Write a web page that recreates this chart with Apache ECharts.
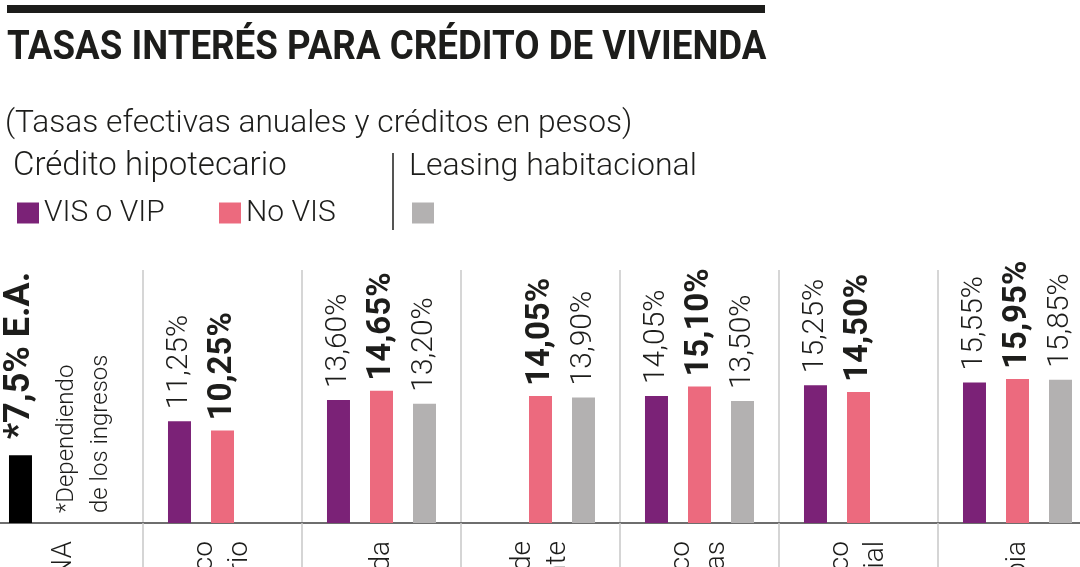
<!DOCTYPE html>
<html>
<head>
<meta charset="utf-8">
<script src="https://cdn.jsdelivr.net/npm/echarts@6/dist/echarts.min.js"></script>
<style>
  html, body { margin: 0; padding: 0; background: #ffffff; }
  #chart { width: 1080px; height: 567px; }
</style>
</head>
<body>
<div id="chart"></div>
<script>
// ---- data ----
const categories = ['FNA', 'Banco\nAgrario', 'Davivienda', 'Banco de\nOccidente', 'Banco\nAV Villas', 'Banco\nCaja Social', 'Bancolombia'];
const visVip   = [7.5, 11.25, 13.60, null, 14.05, 15.25, 15.55];
const noVis    = [null, 10.25, 14.65, 14.05, 15.10, 14.50, 15.95];
const leasing  = [null, null, 13.20, 13.90, 13.50, null, 15.85];
const seriesNames = ['VIS o VIP', 'No VIS', 'Leasing habitacional'];
const fnaNote = '*7,5% E.A.';
const fnaFootnote = '*Dependiendo\nde los ingresos';
const titleText = 'TASAS INTERÉS PARA CRÉDITO DE VIVIENDA';
const subtitleText = '(Tasas efectivas anuales y créditos en pesos)';
const groupHipotecario = 'Crédito hipotecario';
const groupLeasing = 'Leasing habitacional';

// ---- style ----
const INK = '#1d1d1b';
const PURPLE = '#7b2277';
const PINK = '#ec6a7e';
const GRAY = '#b3b1b1';
const FONT = 'Roboto, "Noto Sans", sans-serif';

const fmt = p => Number(p.value).toFixed(2).replace('.', ',') + '%';
const clean = arr => arr.map(v => (v === null ? '-' : v));

function lightLabel() {
  return {
    show: true, position: 'top', rotate: 90, align: 'left', verticalAlign: 'middle',
    distance: 12, fontSize: 30, fontWeight: 300, fontFamily: FONT, color: INK, formatter: fmt
  };
}

const visData = clean(visVip).map((v, i) => i === 0 ? {
  value: v,
  itemStyle: { color: '#000000' },
  label: { formatter: fnaNote, fontWeight: 'bold', fontSize: 36, distance: 16, color: INK }
} : v);

const chart = echarts.init(document.getElementById('chart'), null, { renderer: 'canvas' });

const legendBase = {
  top: 197, padding: 0, itemWidth: 22, itemHeight: 21, icon: 'rect',
  textStyle: { fontSize: 30, lineHeight: 32, fontWeight: 300, fontFamily: FONT, color: INK }
};

chart.setOption({
  animation: false,
  backgroundColor: '#ffffff',
  grid: { left: -16, right: -17, top: 270, bottom: 44, containLabel: false, outerBoundsMode: 'none' },
  xAxis: {
    type: 'category',
    data: categories,
    axisLine: { lineStyle: { color: '#6e6e6e', width: 2 } },
    axisTick: { show: true, interval: 0, length: 60, lineStyle: { color: '#c8c8c8', width: 1.5 } },
    splitLine: { show: true, interval: 0, lineStyle: { color: '#c8c8c8', width: 1.5 } },
    axisLabel: {
      rotate: 90, interval: 0, margin: 18, fontSize: 28, lineHeight: 35,
      fontWeight: 300, fontFamily: FONT, color: INK
    }
  },
  yAxis: { type: 'value', min: 0, max: 28, show: false },
  legend: [
    Object.assign({}, legendBase, { data: [seriesNames[0]], left: 17 }),
    Object.assign({}, legendBase, { data: [seriesNames[1]], left: 219 }),
    Object.assign({}, legendBase, { data: [seriesNames[2]], left: 412, formatter: () => ' ' })
  ],
  series: [
    {
      name: seriesNames[0], type: 'bar', data: visData,
      barWidth: 23, barGap: '87%',
      itemStyle: { color: PURPLE },
      label: lightLabel()
    },
    {
      name: seriesNames[1], type: 'bar', data: clean(noVis),
      barWidth: 23, barGap: '87%',
      itemStyle: { color: PINK },
      label: Object.assign(lightLabel(), { fontWeight: 'bold', fontSize: 33, distance: 10 })
    },
    {
      name: seriesNames[2], type: 'bar', data: clean(leasing),
      barWidth: 23, barGap: '87%',
      itemStyle: { color: GRAY },
      label: lightLabel()
    }
  ],
  graphic: [
    { type: 'rect', shape: { x: 7, y: 5, width: 758, height: 8 }, style: { fill: INK } },
    { type: 'text', x: 7, y: 49, scaleX: 0.918, style: { text: titleText, fontSize: 40, fontWeight: 'bold', fontFamily: FONT, fill: INK, align: 'left', verticalAlign: 'middle' } },
    { type: 'text', x: 5, y: 124, style: { text: subtitleText, fontSize: 31.7, fontWeight: 300, fontFamily: FONT, fill: INK, align: 'left', verticalAlign: 'middle' } },
    { type: 'text', x: 13, y: 167, style: { text: groupHipotecario, fontSize: 33, fontWeight: 300, fontFamily: FONT, fill: INK, align: 'left', verticalAlign: 'middle' } },
    { type: 'text', x: 409, y: 167, style: { text: groupLeasing, fontSize: 32, fontWeight: 300, fontFamily: FONT, fill: INK, align: 'left', verticalAlign: 'middle' } },
    { type: 'line', shape: { x1: 393, y1: 153, x2: 393, y2: 230 }, style: { stroke: INK, lineWidth: 1.5 } },
    { type: 'text', x: 84, y: 513, rotation: Math.PI / 2, style: { text: fnaFootnote, fontSize: 24, lineHeight: 34, fontWeight: 300, fontFamily: FONT, fill: INK, align: 'left', verticalAlign: 'middle' } }
  ]
});
</script>
</body>
</html>
